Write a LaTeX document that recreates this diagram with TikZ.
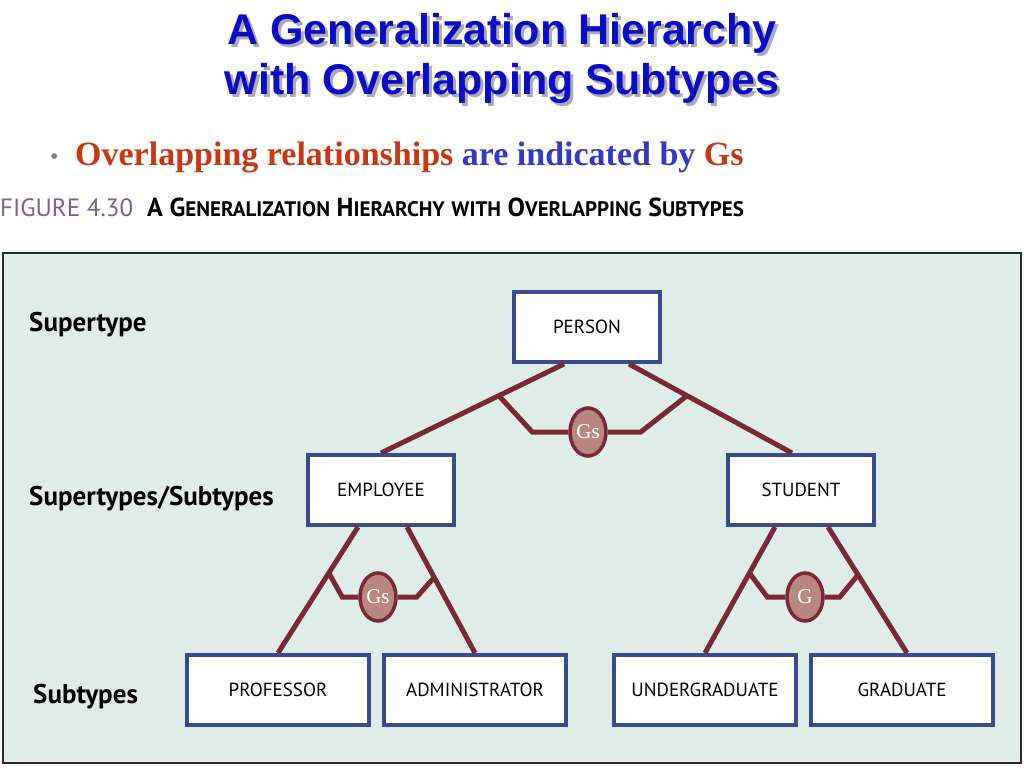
\documentclass[tikz,border=0pt]{standalone}
\usepackage{fontspec}
\setmainfont{Liberation Serif}
\newfontfamily\headfont{Liberation Sans}
\newfontfamily\capfont{PT Sans}
\newfontfamily\labelfont{PT Sans}
\usetikzlibrary{calc, shapes.geometric}
\definecolor{titleblue}{RGB}{12,12,200}
\definecolor{shadowgray}{RGB}{170,170,185}
\definecolor{bulletred}{RGB}{200,55,20}
\definecolor{bulletblue}{RGB}{55,55,200}
\definecolor{figpurple}{RGB}{120,95,150}
\definecolor{panelbg}{RGB}{223,236,232}
\definecolor{panelborder}{RGB}{40,45,45}
\definecolor{boxblue}{RGB}{58,74,140}
\definecolor{linkred}{RGB}{122,40,55}
\definecolor{gfill}{RGB}{186,134,128}
\newcommand\dropshadow[1]{\makebox[0pt][l]{\hspace{3pt}\raisebox{-3pt}{\textcolor{shadowgray}{#1}}}#1}
\newcommand\smcap[1]{{\fontsize{21}{21}\selectfont #1}}
\tikzset{
	entity/.style={draw=boxblue, line width=4pt, fill=white, minimum width=146pt, minimum height=70pt, font=\labelfont\fontsize{19}{19}\selectfont}
}
\tikzset{
	subentity/.style={entity, minimum width=182pt}
}
\tikzset{
	gnode/.style={ellipse, draw=linkred, line width=3.5pt, fill=gfill, minimum width=36pt, minimum height=48pt, inner sep=0pt, text=white, font=\fontsize{21}{21}\selectfont}
}
\tikzset{
	link/.style={draw=linkred, line width=5pt},
	rowlabel/.style={anchor=base west, inner sep=0pt, font=\labelfont\bfseries\fontsize{27}{27}\selectfont},
	headline/.style={anchor=base, inner sep=0pt, text=titleblue, font=\headfont\bfseries\fontsize{43}{43}\selectfont}
}
\begin{document}
\begin{tikzpicture}[x=1pt, y=-1pt]
      \useasboundingbox[fill=white] (0,0) rectangle (1024,768);
      % heading
      \node[headline] (title1) at (502,45) {\dropshadow{A Generalization Hierarchy}};
      \node[headline] (title2) at (502,94) {\dropshadow{with Overlapping Subtypes}};
      \node[anchor=base west, inner sep=0pt, text=gray, font=\fontsize{24}{24}\selectfont] (dot) at (50,164) {\textbullet};
      \node[anchor=base west, inner sep=0pt, font=\bfseries\fontsize{34}{34}\selectfont] (bullet) at (75,165) {\textcolor{bulletred}{Overlapping relationships} \textcolor{bulletblue}{are indicated by} \textcolor{bulletred}{Gs}};
      \node[anchor=base west, inner sep=0pt, text=figpurple, font=\capfont\fontsize{25}{25}\selectfont] (fignum) at (0,216) {FIGURE 4.30};
      \node[anchor=base west, inner sep=0pt, font=\capfont\bfseries\fontsize{26}{26}\selectfont] (figtitle) at (147,216) {A G\smcap{ENERALIZATION} H\smcap{IERARCHY} \smcap{WITH} O\smcap{VERLAPPING} S\smcap{UBTYPES}};
      % panel
      \draw[draw=panelborder, line width=2pt, fill=panelbg] (3,253) rectangle (1021,763);
      \node[rowlabel] (suplabel) at (29,331) {Supertype};
      \node[rowlabel] (midlabel) at (29,505) {Supertypes/Subtypes};
      \node[rowlabel] (sublabel) at (33,703) {Subtypes};
      % entities
      \node[entity] (person) at (587,327) {PERSON};
      \node[entity] (employee) at (381,490) {EMPLOYEE};
      \node[entity] (student) at (801,490) {STUDENT};
      \node[subentity] (professor) at (278,690) {PROFESSOR};
      \node[subentity] (admin) at (475,690) {ADMINISTRATOR};
      \node[subentity] (undergrad) at (705,690) {UNDERGRADUATE};
      \node[subentity] (graduate) at (902,690) {GRADUATE};
      \node[gnode] (g1) at (588,432) {Gs};
      \node[gnode] (g2) at (378,597) {Gs};
      \node[gnode] (g3) at (805,597) {G};
      % links
      \coordinate (pl) at ([xshift=-23pt]person.south);
      \coordinate (pr) at ([xshift=42pt]person.south);
      \coordinate (el) at ([xshift=-23pt]employee.south);
      \coordinate (er) at ([xshift=26pt]employee.south);
      \coordinate (sl) at ([xshift=-26pt]student.south);
      \coordinate (sr) at ([xshift=27pt]student.south);
      \coordinate (st) at ([xshift=-9pt]student.north);
      \coordinate (gt) at ([xshift=5pt]graduate.north);
      \draw[link] (pl) -- (employee.north);
      \draw[link] (pr) -- (st);
      \draw[link] (el) -- (professor.north);
      \draw[link] (er) -- (admin.north);
      \draw[link] (sl) -- (undergrad.north);
      \draw[link] (sr) -- (gt);
      % overlap brackets
      \draw[link] ($(pl)!0.356!(employee.north)$) -- ($(g1.west)+(-36,0)$) -- (g1.west);
      \draw[link] (g1.east) -- ++(33,0) -- ($(pr)!0.356!(st)$);
      \draw[link] ($(el)!0.365!(professor.north)$) -- ($(g2.west)+(-16,0)$) -- (g2.west);
      \draw[link] (g2.east) -- ++(19,0) -- ($(er)!0.4!(admin.north)$);
      \draw[link] ($(sl)!0.365!(undergrad.north)$) -- ($(g3.west)+(-18,0)$) -- (g3.west);
      \draw[link] (g3.east) -- ++(15,0) -- ($(sr)!0.38!(gt)$);
    \end{tikzpicture}
\end{document}
